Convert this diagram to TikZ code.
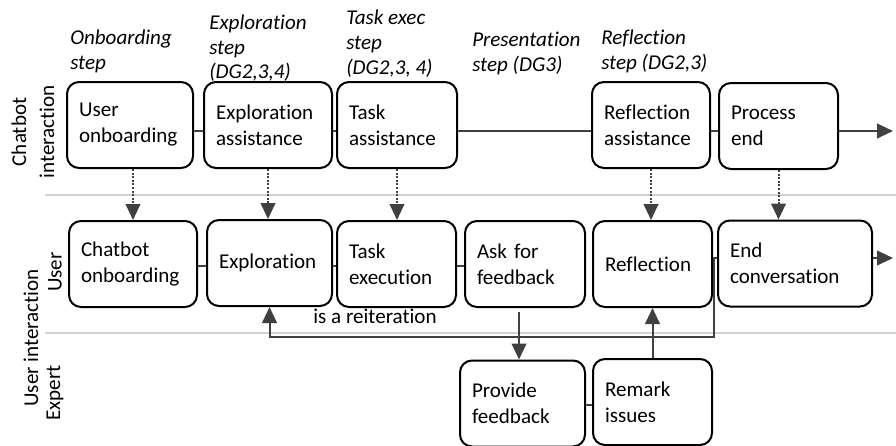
\documentclass[tikz,border=0pt]{standalone}
\usepackage{fontspec}
\setmainfont[Ligatures=NoCommon]{Carlito}
\usetikzlibrary{arrows.meta}

\begin{document}
\begin{tikzpicture}[x=0.75pt,y=0.75pt,yscale=-1,xscale=1,
  box/.style={draw, line width=1.5pt, rounded corners=9pt, minimum height=64.5pt, inner xsep=9pt, inner ysep=0pt, align=left, font=\fontsize{15.8}{19.5}\selectfont},
  steplabel/.style={anchor=north west, inner sep=0pt, align=left, font=\fontsize{15.8}{18.6}\selectfont\itshape},
  lanelabel/.style={rotate=90, inner sep=0pt, align=center, font=\fontsize{15.8}{21}\selectfont},
  link/.style={draw={rgb, 255:red, 64; green, 64; blue, 64}, line width=1.5pt},
  arrow/.style={link, -{Triangle[length=12pt,width=11pt]}},
  dotarrow/.style={arrow, dash pattern=on 1.5pt off 1.2pt},
  lane/.style={draw={rgb, 255:red, 210; green, 210; blue, 210}, line width=1.2pt}]
\useasboundingbox (0,0) rectangle (896,446);

%Straight Lines (lane borders)
\draw[lane] (45,195) -- (896,195);
\draw[lane] (45,333) -- (896,333);

% Text Node (lanes)
\node[lanelabel] (chatlane) at (33,132) {Chatbot\\interaction};
\node[lanelabel] (userlane) at (55,272) {User};
\node[lanelabel] (uilane) at (31,338) {User interaction};
\node[lanelabel] (explane) at (55,393) {Expert};

% Text Node (steps)
\node[steplabel] (onbstep) at (70,29.5) {Onboarding\\step};
\node[steplabel] (expstep) at (209,14.5) {Exploration\\step\\(DG2,3,4)};
\node[steplabel] (taskstep) at (346,10) {Task exec\\step\\(DG2,3, 4)};
\node[steplabel] (presstep) at (472,32) {Presentation\\step (DG3)};
\node[steplabel] (reflstep) at (601,30) {Reflection\\step (DG2,3)};

% Text Node (chatbot row)
\node[box, text width=76.5pt] (uonb) at (130,125) {User\\onboarding};
\node[box, text width=78pt] (exas) at (268,125) {Exploration\\assistance};
\node[box, text width=72pt] (tkas) at (397,125) {Task\\assistance};
\node[box, text width=70.5pt] (rfas) at (651,125) {Reflection\\assistance};
\node[box, text width=71.25pt] (pend) at (778.5,126) {Process\\end};

% Text Node (user row)
\node[box, text width=78pt] (conb) at (133,264) {Chatbot\\onboarding};
\node[box, text width=75.75pt] (expl) at (269.5,263) {Exploration};
\node[box, text width=71.25pt] (tkex) at (396.5,264) {Task\\execution};
\node[box, text width=72pt] (askf) at (525,264) {Ask for\\feedback};
\node[box, text width=71.25pt] (refl) at (652.5,264) {Reflection};
\node[box, text width=97.5pt] (endc) at (795,263.5) {End\\conversation};

% Text Node (expert row)
\node[box, text width=75.75pt] (prov) at (522.5,403.5) {Provide\\feedback};
\node[box, text width=71.25pt] (rmrk) at (652.5,402) {Remark\\issues};

% Text Node
\node[inner sep=0pt, font=\fontsize{15.8}{19.5}\selectfont] (reit) at (375,316) {is a reiteration};

\coordinate (topline) at (0,131);
\coordinate (midline) at (0,266);
\coordinate (endline) at (0,258);
\coordinate (loopline) at (0,337);
\coordinate (botline) at (0,405);
\coordinate (topend) at (893,131);
\coordinate (midend) at (893,258);
\coordinate (split) at (714,258);
\coordinate (fbk) at (519,312);

%Straight Lines (chatbot row)
\draw[link] (uonb.east |- topline) -- (exas.west |- topline);
\draw[link] (exas.east |- topline) -- (tkas.west |- topline);
\draw[link] (tkas.east |- topline) -- (rfas.west |- topline);
\draw[link] (rfas.east |- topline) -- (pend.west |- topline);
\draw[arrow] (pend.east |- topline) -- (topend);

%Straight Lines (user row)
\draw[link] (conb.east |- midline) -- (expl.west |- midline);
\draw[link] (expl.east |- midline) -- (tkex.west |- midline);
\draw[link] (tkex.east |- midline) -- (askf.west |- midline);
\draw[link] (refl.east |- endline) -- (endc.west |- endline);
\draw[arrow] (endc.east |- endline) -- (midend);

%Straight Lines (expert row)
\draw[link] (prov.east |- botline) -- (rmrk.west |- botline);

%Dotted arrows
\draw[dotarrow] (uonb.south -| conb.north) -- (conb.north);
\draw[dotarrow] (exas.south) -- (exas.south |- expl.north);
\draw[dotarrow] (tkas.south) -- (tkas.south |- tkex.north);
\draw[dotarrow] (rfas.south) -- (rfas.south |- refl.north);
\draw[dotarrow] (pend.south) -- (pend.south |- endc.north);

%Arrows
\draw[arrow] (fbk) -- (fbk |- prov.north);
\draw[arrow] (rmrk.north) -- (refl.south);
\draw[arrow] (split) |- (expl.south |- loopline) -- (expl.south);

\end{tikzpicture}
\end{document}
